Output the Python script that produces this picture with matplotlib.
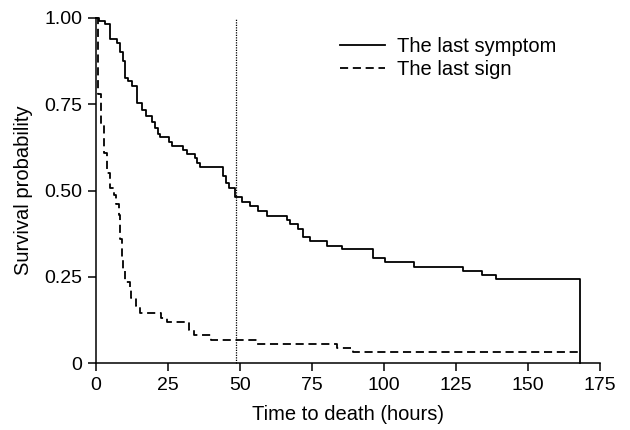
import numpy as np
import matplotlib
matplotlib.use('Agg')
import matplotlib.pyplot as plt

plt.rcParams['font.family'] = ['Liberation Sans', 'DejaVu Sans']

# Kaplan-Meier steps (hours, survival after the step)
symptom_t = [0, 1.2, 3.1, 4.9, 7.2, 8.3, 9.5, 10.1, 11.2, 12.4, 14.1, 15.9, 17.4,
             19.3, 20.5, 21.6, 22.2, 25.5, 26.3, 30.1, 31.5, 34.4, 35.2, 36.1,
             44.2, 45.0, 46.3, 48.3, 50.6, 53.5, 56.4, 59.3, 66.4, 67.4, 70.3,
             72.0, 74.3, 80.1, 85.3, 96.3, 100.3, 110.4, 127.3, 133.9, 138.9, 168]
symptom_s = [1.0, 0.991, 0.983, 0.938, 0.928, 0.902, 0.875, 0.827, 0.816, 0.803,
             0.755, 0.733, 0.717, 0.700, 0.680, 0.663, 0.654, 0.641, 0.630, 0.617,
             0.606, 0.593, 0.579, 0.567, 0.541, 0.523, 0.506, 0.482, 0.468, 0.454,
             0.442, 0.427, 0.414, 0.403, 0.388, 0.366, 0.355, 0.340, 0.330, 0.303,
             0.292, 0.278, 0.267, 0.256, 0.243, 0.0]

sign_t = [0, 0.6, 1.6, 2.9, 3.9, 4.9, 6.3, 7.0, 7.9, 8.3, 8.9, 9.4, 10.0, 11.8,
          12.3, 14.0, 15.2, 22.6, 24.5, 32.4, 34.0, 40.1, 55.8, 83.6, 89.3, 168]
sign_s = [1.0, 0.78, 0.69, 0.61, 0.55, 0.506, 0.487, 0.46, 0.43, 0.36, 0.30,
          0.27, 0.235, 0.217, 0.188, 0.165, 0.144, 0.13, 0.12, 0.096, 0.081,
          0.067, 0.055, 0.043, 0.032, 0.032]

cutoff = 48.6
xticks = [0, 25, 50, 75, 100, 125, 150, 175]
yticks = [0, 0.25, 0.5, 0.75, 1.0]
ytick_labels = ['0', '0.25', '0.50', '0.75', '1.00']

fig = plt.figure(figsize=(6.3, 4.3), dpi=100)
ax = fig.add_axes([96 / 630, 67 / 430, 504 / 630, 345 / 430])

ax.step(symptom_t, symptom_s, where='post', color='black', lw=1.3,
        label='The last symptom', clip_on=False)
ax.step(sign_t, sign_s, where='post', color='black', lw=1.3,
        linestyle=(0, (4.5, 2.6)), label='The last sign', clip_on=False)
ax.plot([cutoff, cutoff], [0, 1], color='black', lw=0.9, linestyle=(0, (1, 1)),
        clip_on=False)

ax.set_xlim(0, 175)
ax.set_ylim(0, 1)
ax.set_xticks(xticks)
ax.set_yticks(yticks)
ax.set_yticklabels(ytick_labels)
ax.tick_params(direction='out', length=6, width=1.1, labelsize=14, pad=4,
               colors='black')
for side in ['top', 'right']:
    ax.spines[side].set_visible(False)
for side in ['left', 'bottom']:
    ax.spines[side].set_linewidth(1.1)

ax.set_xlabel('Time to death (hours)', fontsize=14.5, labelpad=8)
ax.set_ylabel('Survival probability', fontsize=14.5, labelpad=8)

ax.legend(loc='upper left', bbox_to_anchor=(0.465, 0.975), frameon=False,
          fontsize=14.5, handlelength=2.2, handletextpad=0.6, borderpad=0,
          labelspacing=0.2)

fig.savefig('out.png', dpi=100)
